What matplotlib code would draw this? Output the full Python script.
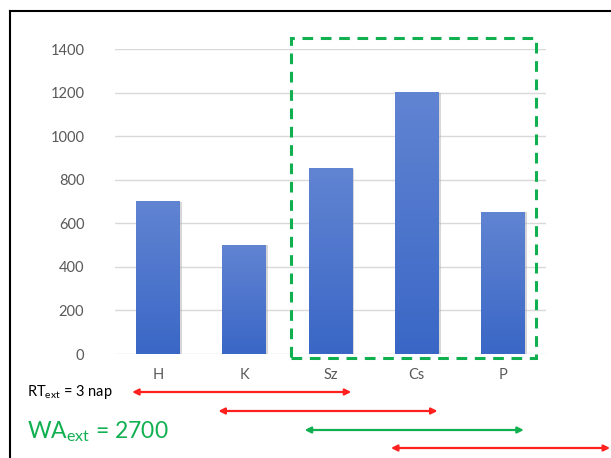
import numpy as np
import matplotlib
matplotlib.use("Agg")
import matplotlib.pyplot as plt
from matplotlib.patches import Rectangle
from matplotlib.lines import Line2D
from matplotlib.colors import LinearSegmentedColormap
import matplotlib.transforms as mtransforms

plt.rcParams['font.family'] = ['Lato', 'DejaVu Sans']
plt.rcParams['mathtext.fontset'] = 'custom'
plt.rcParams['mathtext.rm'] = 'Lato'

napok = ['H', 'K', 'Sz', 'Cs', 'P']
ertekek = [700, 500, 850, 1200, 650]
yticks = [0, 200, 400, 600, 800, 1000, 1200, 1400]

# 3 napos ablakok (kezdő nap indexe, szín)
ablak_kezd = [0, 1, 2, 3]
ablak_szin = ['#ff2020', '#ff2020', '#10b050', '#ff2020']
ablak_hossz = 3
kivalasztott = 2  # Sz-Cs-P

fig = plt.figure(figsize=(6.11, 4.58), dpi=100)
ax = fig.add_axes([0.188, 0.227, 0.706, 0.666])

x = np.arange(len(napok))
szel = 0.51
cmap = LinearSegmentedColormap.from_list('kek', ['#3a67c6', '#6184d2'])
grad = np.linspace(0, 1, 100).reshape(-1, 1)
for xi, v in zip(x, ertekek):
    # árnyék
    ax.add_patch(Rectangle((xi - szel / 2 + 0.02, 0), szel, v, color='#b0b0b0',
                           alpha=0.5, zorder=2, lw=0))
    ax.imshow(grad, cmap=cmap, origin='lower', aspect='auto',
              extent=(xi - szel / 2, xi + szel / 2, 0, v), zorder=3)

ax.set_xlim(-0.5, 4.5)
ax.set_ylim(0, 1400)
ax.set_xticks(x)
ax.set_xticklabels(napok)
ax.set_yticks(yticks)
ax.tick_params(length=0, colors='#595959', labelsize=10.5, pad=10)
ax.tick_params(axis='y', pad=22)
ax.grid(axis='y', color='#d9d9d9', lw=1, zorder=0)
ax.set_axisbelow(True)
for s in ax.spines.values():
    s.set_visible(False)

# kiválasztott ablak keretezése
ax.add_patch(Rectangle((kivalasztott - 0.46, -18), ablak_hossz - 0.16, 1468,
                       fill=False, ls=(0, (3.5, 2.5)), lw=2.2, ec='#10b050',
                       clip_on=False, zorder=5))

# csúszó ablakok nyilai
trans = mtransforms.blended_transform_factory(ax.transData, fig.transFigure)
sor_y = [1 - 392 / 458, 1 - 411 / 458, 1 - 430 / 458, 1 - 448 / 458]
for k, c, yy in zip(ablak_kezd, ablak_szin, sor_y):
    ax.annotate('', xy=(k + ablak_hossz - 0.76, yy), xytext=(k - 0.3, yy),
                xycoords=trans, textcoords=trans,
                arrowprops=dict(arrowstyle='<|-|>', color=c, lw=1.6,
                                mutation_scale=9, shrinkA=0, shrinkB=0),
                annotation_clip=False)

fig.text(27 / 611, 1 - 392 / 458, r'RT$_{\mathregular{ext}}$ = 3 nap',
         fontsize=10.5, color='black', va='center')
fig.text(27 / 611, 1 - 432 / 458, r'WA$_{\mathregular{ext}}$ = 2700',
         fontsize=16.5, color='#10b050', va='center')

# keret
fig.add_artist(Line2D([10 / 611, 10 / 611], [0, 1 - 11 / 458], color='black', lw=1.5))
fig.add_artist(Line2D([10 / 611, 1], [1 - 11 / 458, 1 - 11 / 458], color='black', lw=1.5))

fig.savefig('out.png', dpi=100)
